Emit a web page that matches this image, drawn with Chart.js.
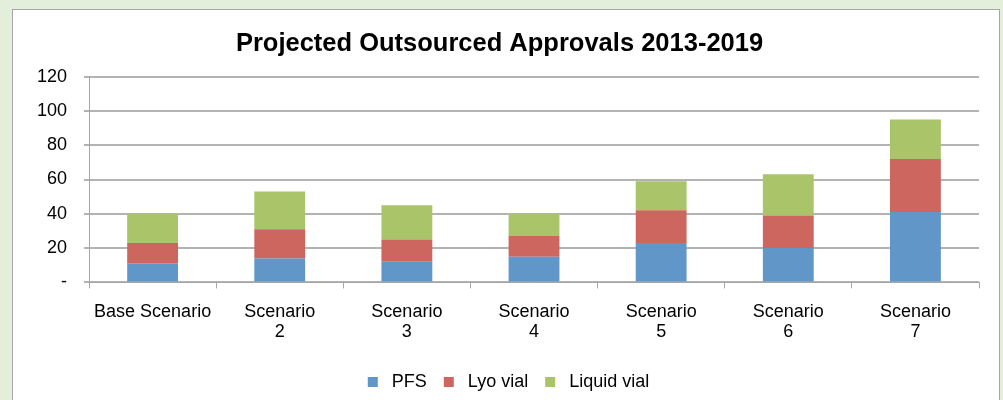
<!DOCTYPE html>
<html>
<head>
<meta charset="utf-8">
<script src="https://cdn.jsdelivr.net/npm/chart.js@4/dist/chart.umd.min.js"></script>
<style>
  html, body { margin: 0; padding: 0; background: #e3eedb; width: 1003px; height: 400px; overflow: hidden; }
  #panel { position: absolute; left: 12px; top: 9px; width: 986px; height: 400px; background: #fff; border: 1px solid #a6a6a6; }
  #panel canvas { display: block; }
</style>
</head>
<body>
<div id="panel"><canvas id="approvals" width="986" height="391"></canvas></div>
<script>
const scenarios = ['Base Scenario', ['Scenario', '2'], ['Scenario', '3'], ['Scenario', '4'], ['Scenario', '5'], ['Scenario', '6'], ['Scenario', '7']];
const pfs = [11, 14, 12, 15, 23, 20, 41];
const lyo_vial = [12, 17, 13, 12, 19, 19, 31];
const liquid_vial = [17, 22, 20, 13, 17, 24, 23];
const y_tick_labels = ['-', '20', '40', '60', '80', '100', '120'];

Chart.defaults.font.family = '"Liberation Sans", Arial, sans-serif';
Chart.defaults.font.size = 18;
Chart.defaults.color = '#000';

const approvals_data = {
  labels: scenarios,
  datasets: [{
    label: 'PFS',
    data: pfs,
    backgroundColor: '#6196c8'
  }, {
    label: 'Lyo vial',
    data: lyo_vial,
    backgroundColor: '#cd665f'
  }, {
    label: 'Liquid vial',
    data: liquid_vial,
    backgroundColor: '#aac46a'
  }]
};

// a little extra room between the legend box and its text
const default_legend_labels = Chart.defaults.plugins.legend.labels.generateLabels;

// legend sits centred on the panel rather than on the padded layout
const legend_shift = {
  id: 'legend_shift',
  afterLayout(chart) {
    chart.legend.left += 9;
    chart.legend.right += 9;
  }
};

const approvals_config = {
  type: 'bar',
  data: approvals_data,
  plugins: [legend_shift],
  options: {
    responsive: false,
    animation: false,
    layout: { padding: { left: 7, right: 20, top: 8, bottom: 0 } },
    datasets: {
      bar: { barPercentage: 0.4, categoryPercentage: 1, borderWidth: 0 }
    },
    plugins: {
      title: {
        display: true,
        text: 'Projected Outsourced Approvals 2013-2019',
        font: { size: 25.5, weight: 'bold' },
        padding: { top: 11, bottom: 17 }
      },
      legend: {
        position: 'bottom',
        labels: {
          boxWidth: 10,
          boxHeight: 10,
          padding: 17,
          font: { size: 18 },
          generateLabels: (chart) => default_legend_labels(chart).map(item => {
            item.text = ' ' + item.text;
            return item;
          })
        }
      },
      tooltip: { enabled: false }
    },
    scales: {
      x: {
        stacked: true,
        grid: { offset: true, drawOnChartArea: false, color: '#a6a6a6', tickLength: 6 },
        border: { color: '#a6a6a6' },
        ticks: { maxRotation: 0, padding: 14, font: { size: 18, lineHeight: 1.1 } }
      },
      y: {
        stacked: true,
        min: 0,
        max: 120,
        grid: { color: '#b3b3b3', lineWidth: 2, tickLength: 5 },
        border: { color: '#a6a6a6' },
        ticks: {
          stepSize: 20,
          padding: 17,
          callback: (value, index) => y_tick_labels[index]
        }
      }
    }
  }
};

const approvals = new Chart(document.getElementById('approvals'), approvals_config);
</script>
</body>
</html>
